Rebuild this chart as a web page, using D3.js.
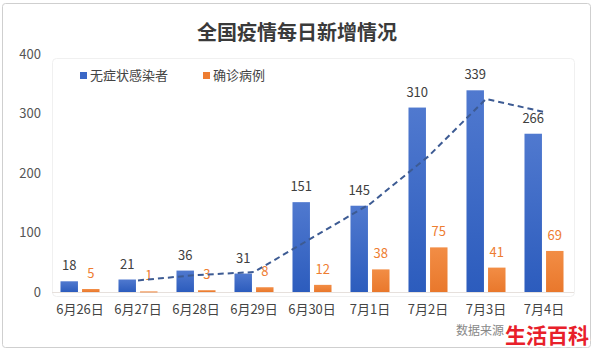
<!DOCTYPE html>
<html>
<head>
<meta charset="utf-8">
<script src="https://cdn.jsdelivr.net/npm/d3@7"></script>
<style>
  body { margin: 0; background: #fff; }
  svg text { font-family: "Noto Sans CJK SC", "Noto Sans", sans-serif; }
</style>
</head>
<body>
<div id="chart"></div>
<script>
// data
const days = ["6月26日", "6月27日", "6月28日", "6月29日", "6月30日", "7月1日", "7月2日", "7月3日", "7月4日"];
const asymptomatic = [18, 21, 36, 31, 151, 145, 310, 339, 266];
const confirmed = [5, 1, 3, 8, 12, 38, 75, 41, 69];
// dashed trend line (starts on the second day)
const trendDays = ["6月27日", "6月28日", "6月29日", "6月30日", "7月1日", "7月2日", "7月3日", "7月4日"];
const trendValues = [19.5, 28.5, 33.5, 91, 148, 227.5, 324.5, 302.5];
const yTicks = [0, 100, 200, 300, 400];
const seriesNames = ["无症状感染者", "确诊病例"];

const width = 594, height = 354;
const blue = "#3a67c6", orange = "#ee7d31";

const svg = d3.select("#chart")
    .append("svg")
    .attr("width", width)
    .attr("height", height);

const defs = svg.append("defs");
function gradient(id, top, bottom) {
    const g = defs.append("linearGradient")
        .attr("id", id)
        .attr("x1", 0).attr("y1", 0).attr("x2", 0).attr("y2", 1);
    g.append("stop").attr("offset", "0%").attr("stop-color", top);
    g.append("stop").attr("offset", "100%").attr("stop-color", bottom);
}
gradient("gBlue", "#5079cf", "#2c5cbd");
gradient("gOrange", "#f28d45", "#e9782c");

// outer frame
svg.append("rect")
    .attr("x", 2.5).attr("y", 3.5)
    .attr("width", 588).attr("height", 344)
    .attr("rx", 3)
    .attr("fill", "#fff")
    .attr("stroke", "#cfcfcf");

// inner plot panel
svg.append("rect")
    .attr("x", 52.5).attr("y", 58.5)
    .attr("width", 522).attr("height", 238)
    .attr("rx", 4)
    .attr("fill", "none")
    .attr("stroke", "#f0f0f0");

// title
svg.append("text")
    .attr("x", 297).attr("y", 40)
    .attr("text-anchor", "middle")
    .attr("font-size", 20)
    .attr("font-weight", "bold")
    .attr("fill", "#3a3a3a")
    .text("全国疫情每日新增情况");

// scales
const x = d3.scaleBand()
    .domain(days)
    .range([51, 573])
    .padding(0);

const xSub = d3.scaleBand()
    .domain(seriesNames)
    .range([0, x.bandwidth()])
    .paddingInner(0.19)
    .paddingOuter(0.44);

const y = d3.scaleLinear()
    .domain([0, 400])
    .range([292, 54]);

// y axis labels only
const yAxis = d3.axisLeft(y).tickValues(yTicks).tickSize(0).tickPadding(0);
const gy = svg.append("g")
    .attr("transform", "translate(41,0)")
    .call(yAxis);
gy.select(".domain").remove();
gy.selectAll("text")
    .attr("font-size", 13)
    .attr("fill", "#555");

// baseline
svg.append("line")
    .attr("x1", 52).attr("x2", 574)
    .attr("y1", y(0) + 0.5).attr("y2", y(0) + 0.5)
    .attr("stroke", "#e6e0dc");

// x axis labels
const xAxis = d3.axisBottom(x).tickSize(0).tickPadding(0);
const gx = svg.append("g")
    .attr("transform", `translate(0, ${y(0) + 13})`)
    .call(xAxis);
gx.select(".domain").remove();
gx.selectAll("text")
    .attr("font-size", 13)
    .attr("fill", "#444");

const rows = days.map((d, i) => ({ day: d, a: asymptomatic[i], c: confirmed[i] }));

// bars
const groups = svg.selectAll(".day")
    .data(rows)
    .enter()
    .append("g")
    .attr("transform", d => `translate(${x(d.day)},0)`);

groups.append("rect")
    .attr("x", xSub(seriesNames[0]))
    .attr("y", d => y(d.a))
    .attr("width", xSub.bandwidth())
    .attr("height", d => y(0) - y(d.a))
    .attr("fill", "url(#gBlue)");

groups.append("rect")
    .attr("x", xSub(seriesNames[1]))
    .attr("y", d => y(d.c))
    .attr("width", xSub.bandwidth())
    .attr("height", d => Math.max(1, y(0) - y(d.c)))
    .attr("fill", "url(#gOrange)");

// trend line
const line = d3.line()
    .x((d, i) => x(trendDays[i]) + x.bandwidth() / 2)
    .y(d => y(d));

svg.append("path")
    .datum(trendValues)
    .attr("d", line)
    .attr("fill", "none")
    .attr("stroke", "#3d5b93")
    .attr("stroke-width", 2)
    .attr("stroke-dasharray", "6,4");

// value labels
groups.append("text")
    .attr("x", xSub(seriesNames[0]) + xSub.bandwidth() / 2)
    .attr("y", d => y(d.a) - 11)
    .attr("text-anchor", "middle")
    .attr("font-size", 13)
    .attr("fill", "#404040")
    .text(d => d.a);

groups.append("text")
    .attr("x", xSub(seriesNames[1]) + xSub.bandwidth() / 2)
    .attr("y", d => y(d.c) - 11)
    .attr("text-anchor", "middle")
    .attr("font-size", 13)
    .attr("fill", "#ee7d31")
    .text(d => d.c);

// legend
const legend = svg.append("g").attr("transform", "translate(80,72)");
const legendX = [0, 123];
seriesNames.forEach((name, i) => {
    legend.append("rect")
        .attr("x", legendX[i]).attr("y", 0)
        .attr("width", 7).attr("height", 7)
        .attr("fill", i === 0 ? blue : orange);
    legend.append("text")
        .attr("x", legendX[i] + 10).attr("y", 8)
        .attr("font-size", 13)
        .attr("fill", "#444")
        .text(name);
});

// source note + watermark
svg.append("text")
    .attr("x", 456).attr("y", 335)
    .attr("font-size", 12)
    .attr("fill", "#888")
    .text("数据来源");

svg.append("text")
    .attr("x", 547).attr("y", 343)
    .attr("text-anchor", "middle")
    .attr("font-size", 21)
    .attr("font-weight", "bold")
    .attr("fill", "#e8202a")
    .attr("stroke", "#fff")
    .attr("stroke-width", 3)
    .attr("paint-order", "stroke")
    .text("生活百科");
</script>
</body>
</html>
